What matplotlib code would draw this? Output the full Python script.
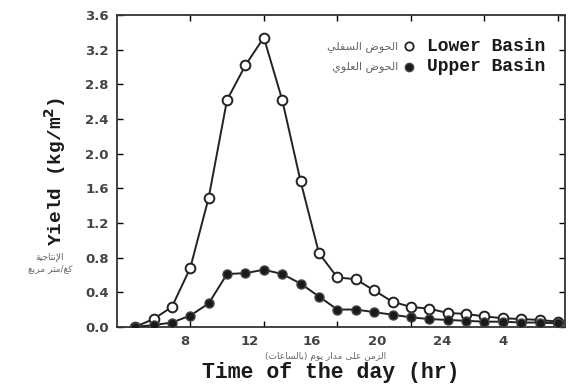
import unicodedata
import matplotlib
matplotlib.use("Agg")
import matplotlib.pyplot as plt

hours = [5, 6, 7, 8, 9, 10, 11, 12, 13, 14, 15, 16, 17, 18, 19, 20,
         21, 22, 23, 24, 25, 26, 27, 28]
lower_basin = [0.0, 0.09, 0.23, 0.68, 1.49, 2.62, 3.02, 3.34, 2.62, 1.68, 0.85, 0.57,
               0.55, 0.42, 0.29, 0.23, 0.21, 0.16, 0.15, 0.12, 0.10, 0.09, 0.08, 0.06]
upper_basin = [0.0, 0.02, 0.05, 0.13, 0.27, 0.61, 0.62, 0.66, 0.61, 0.50, 0.35, 0.20,
               0.20, 0.17, 0.14, 0.11, 0.09, 0.08, 0.07, 0.06, 0.06, 0.05, 0.05, 0.04]
tick_hours = [8, 12, 16, 20, 24, 28]
# labels sit a little left of their ticks in the original scan
label_pos = [7.7, 11.25, 14.6, 18.15, 21.7, 25.0]
label_txt = ["8", "12", "16", "20", "24", "4"]
yticks = [0.0, 0.4, 0.8, 1.2, 1.6, 2.0, 2.4, 2.8, 3.2, 3.6]


# --- tiny arabic shaper (matplotlib has no text shaping / bidi) ---
forms = {}
for cp in range(0xFE70, 0xFEFF):
    d = unicodedata.decomposition(chr(cp))
    if d.startswith("<"):
        kind, rest = d.split(" ", 1)
        key = "".join(chr(int(h, 16)) for h in rest.split())
        forms[(key, kind)] = chr(cp)
right_join = set("اإأآدذرزوؤةى")
letters = set(k for (k, f) in forms if len(k) == 1)


def shape(s):
    out = []
    i = 0
    while i < len(s):
        c = s[i]
        prev = i > 0 and s[i - 1] in letters and s[i - 1] not in right_join
        if c == "ل" and i + 1 < len(s) and s[i + 1] in "اإأآ":
            kind = "<final>" if prev else "<isolated>"
            out.append(forms.get((c + s[i + 1], kind), c + s[i + 1]))
            i += 2
            continue
        if c in letters:
            nxt = c not in right_join and i + 1 < len(s) and s[i + 1] in letters
            kind = {(True, True): "<medial>", (True, False): "<final>",
                    (False, True): "<initial>", (False, False): "<isolated>"}[(prev, nxt)]
            out.append(forms.get((c, kind), forms.get((c, "<isolated>"), c)))
        else:
            out.append(c)
        i += 1
    mirror = {"(": ")", ")": "("}
    return "".join(mirror.get(ch, ch) for ch in reversed(out))


fig = plt.figure(figsize=(5.74, 3.85), dpi=100)
ax = fig.add_axes([0.204, 0.151, 0.78, 0.81])

ax.plot(hours, lower_basin, color="#222222", lw=1.4, marker="o", ms=7,
        mfc="white", mec="#222222", mew=1.4, zorder=2)
ax.plot(hours, upper_basin, color="#222222", lw=1.4, marker="o", ms=6.5,
        mfc="#1a1a1a", mec="#444444", mew=1.0, zorder=3)

ax.set_xlim(4.02, 28.37)
ax.set_ylim(0, 3.6)
ax.set_yticks(yticks)
ax.set_yticklabels([f"{v:.1f}" for v in yticks])
ax.set_xticks(tick_hours, minor=True)
ax.set_xticks(label_pos)
ax.set_xticklabels(label_txt)
ax.tick_params(which="minor", direction="in", length=4, width=1, top=True, bottom=True)
ax.tick_params(axis="x", which="major", length=0, pad=6)
ax.tick_params(axis="y", direction="in", length=4, width=1, right=True, pad=6)
for lab in ax.get_xticklabels() + ax.get_yticklabels():
    lab.set_fontsize(9.5)
    lab.set_fontweight("bold")
    lab.set_color("#444444")
for sp in ax.spines.values():
    sp.set_linewidth(1.3)
    sp.set_color("#333333")

mono = {"family": "Liberation Mono", "weight": "bold", "color": "#1a1a1a"}
ax.set_ylabel("Yield (kg/m$^\\mathbf{2}$)", fontsize=14, labelpad=12, **mono)
fig.text(0.577, 0.033, "Time of the day (hr)", ha="center", va="center", fontsize=15.5, **mono)

# legend drawn by hand like the original
ax.plot([19.9], [3.24], "o", ms=6, mfc="white", mec="#222222", mew=1.3)
ax.plot([19.9], [3.0], "o", ms=6, mfc="#1a1a1a", mec="#444444")
ax.text(20.9, 3.24, "Lower Basin", fontsize=13, va="center", **mono)
ax.text(20.9, 3.0, "Upper Basin", fontsize=13, va="center", **mono)

ar = {"family": "DejaVu Sans", "color": "#666666", "fontsize": 6.5}
ax.text(19.3, 3.24, shape("الحوض السفلي"), ha="right", va="center", **dict(ar, fontsize=8))
ax.text(19.3, 3.0, shape("الحوض العلوي"), ha="right", va="center", **dict(ar, fontsize=8))
fig.text(0.567, 0.074, shape("الزمن على مدار يوم (بالساعات)"), ha="center", va="center", **ar)
fig.text(0.087, 0.332, shape("الإنتاجية"), ha="center", va="center", **ar)
fig.text(0.087, 0.303, shape("كغ/متر مربع"), ha="center", va="center", **ar)

fig.savefig("out.png", dpi=100)
